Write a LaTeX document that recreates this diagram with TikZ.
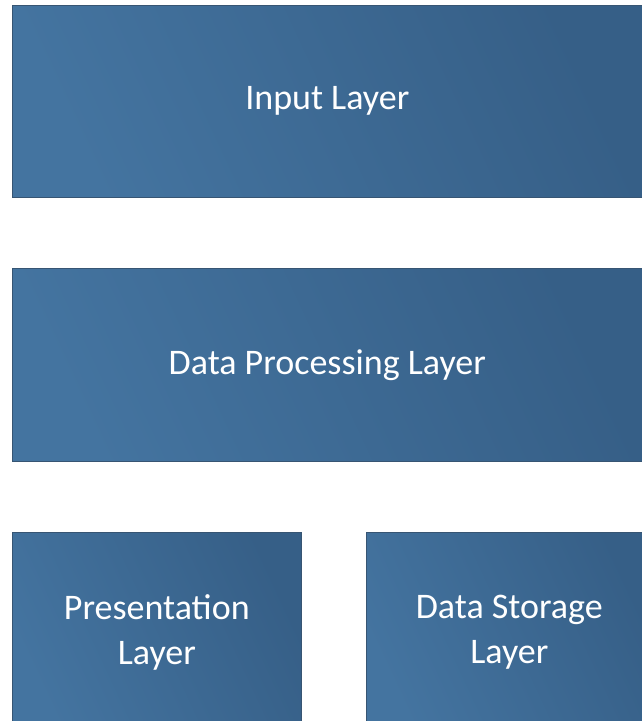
\documentclass[tikz,border=0pt]{standalone}
\usepackage{fontspec}
\setmainfont{Carlito}
\definecolor{boxlight}{RGB}{68,116,160}
\definecolor{boxdark}{RGB}{54,95,135}
\definecolor{boxedge}{RGB}{55,85,115}
\tikzset{
  layer/.style={anchor=north west, inner sep=0pt, draw=boxedge, line width=0.6pt,
    left color=boxlight, right color=boxdark, shading angle=115,
    text=white, font=\fontsize{36}{45}\selectfont, align=center},
}
\begin{document}
\begin{tikzpicture}[x=1pt,y=1pt]
\useasboundingbox (0,0) rectangle (642,721);
\begin{scope}
\clip (0,0) rectangle (642,721);
\node[layer, minimum width=630pt, minimum height=192pt] (input) at (12,716) {Input Layer};
\node[layer, minimum width=630pt, minimum height=193pt] (proc) at (12,453) {Data Processing Layer};
\node[layer, minimum width=289pt, minimum height=200pt] (pres) at (12,189) {Presentation\\Layer};
\node[layer, minimum width=286pt, minimum height=200pt] (stor) at (366,189) {Data Storage\\Layer};
\end{scope}
\end{tikzpicture}
\end{document}
